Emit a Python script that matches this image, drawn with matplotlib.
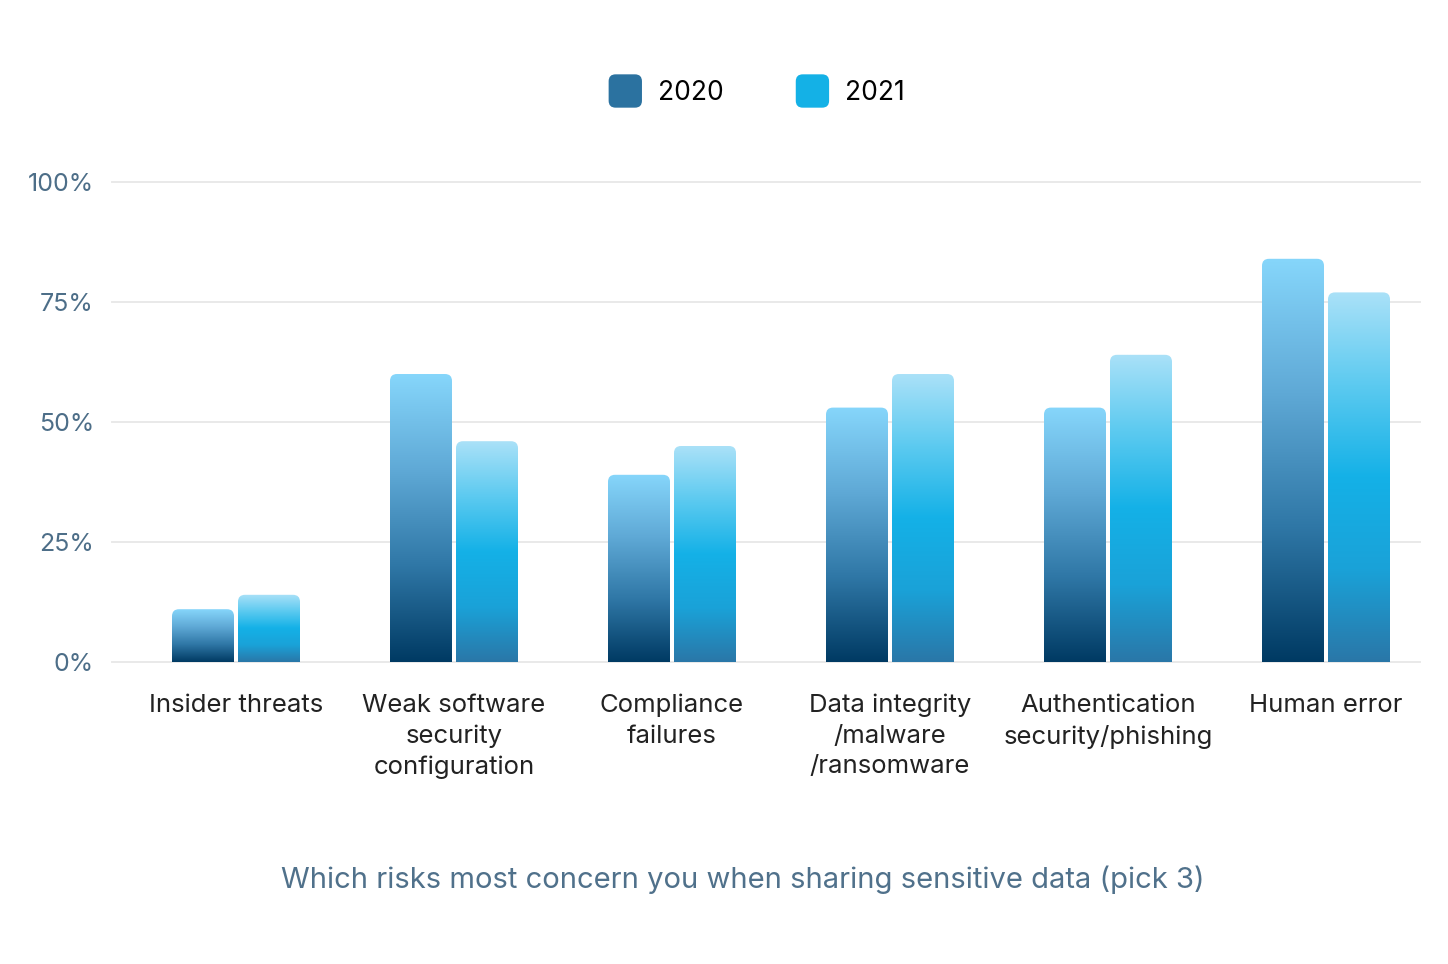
import numpy as np
import matplotlib
matplotlib.use("Agg")
import matplotlib.pyplot as plt
from matplotlib.patches import FancyBboxPatch
from matplotlib.colors import LinearSegmentedColormap
from matplotlib.legend_handler import HandlerPatch

plt.rcParams['font.family'] = ['Inter', 'DejaVu Sans']

# data
categories = ["Insider threats", "Weak software\nsecurity\nconfiguration", "Compliance\nfailures",
              "Data integrity\n/malware\n/ransomware", "Authentication\nsecurity/phishing", "Human error"]
years = ["2020", "2021"]
v2020 = [11, 60, 39, 53, 53, 84]
v2021 = [14, 46, 45, 60, 64, 77]
yticks = [0, 25, 50, 75, 100]
title = "Which risks most concern you when sharing sensitive data (pick 3)"

# gradients (bottom -> top)
cmap20 = LinearSegmentedColormap.from_list("c20", ["#003a63", "#2f77a6", "#5fa9d6", "#86d6fb"])
cmap21 = LinearSegmentedColormap.from_list("c21", ["#2a77a8", "#1aa2d8", "#14b1e7", "#5ccaf0", "#aae1f8"])
solid = ["#2b72a0", "#14b1e6"]

W, H = 1448, 964
fig = plt.figure(figsize=(W / 100, H / 100), dpi=100)
ax = fig.add_axes([112 / W, 1 - 662 / H, (1420 - 112) / W, (662 - 182) / H])

x = np.arange(len(categories))
xl = (-124 / 218, len(categories) - 1 + 94 / 218)
yl = (0, 100)
bw = 62 / 218
gap = 4 / 218

# aspect between data units of y and x (per pixel)
px_x = (xl[1] - xl[0]) / (1420 - 112)
px_y = (yl[1] - yl[0]) / (662 - 182)
asp = px_y / px_x
rad = 7 * px_x

for vals, cm, off in [(v2020, cmap20, -(bw + gap) / 2), (v2021, cmap21, (bw + gap) / 2)]:
    for xi, v in zip(x, vals):
        x0 = xi + off - bw / 2
        patch = FancyBboxPatch((x0, -3), bw, v + 3,
                               boxstyle=f"round,pad=0,rounding_size={rad}",
                               mutation_aspect=asp, facecolor="none", edgecolor="none")
        ax.add_patch(patch)
        grad = np.linspace(0, 1, 256).reshape(-1, 1)
        im = ax.imshow(grad, cmap=cm, extent=(x0, x0 + bw, 0, v), origin="lower",
                       aspect="auto", interpolation="bilinear", zorder=3)
        im.set_clip_path(patch)

ax.set_xlim(*xl)
ax.set_ylim(*yl)
ax.set_aspect("auto")

for t in yticks:
    ax.axhline(t, color="#e9e9e9", lw=1.4, zorder=1, clip_on=False)

ax.set_yticks(yticks)
ax.set_yticklabels([f"{t}%" for t in yticks], color="#4d6e88", fontsize=18)
ax.set_xticks(x)
ax.set_xticklabels(categories, color="#222222", fontsize=18.5, linespacing=1.4, va="top")
ax.tick_params(axis="both", length=0)
ax.tick_params(axis="y", pad=13)
ax.tick_params(axis="x", pad=23)
for s in ax.spines.values():
    s.set_visible(False)


class RoundHandler(HandlerPatch):
    def create_artists(self, legend, orig_handle, xdescent, ydescent, width, height, fontsize, trans):
        size = 24
        p = FancyBboxPatch((width / 2 - size / 2 - xdescent, height / 2 - size / 2 - ydescent), size, size,
                           boxstyle="round,pad=0,rounding_size=5",
                           facecolor=orig_handle.get_facecolor(), edgecolor="none", transform=trans)
        return [p]


handles = [plt.Rectangle((0, 0), 1, 1, facecolor=c) for c in solid]
fig.legend(handles, years, handler_map={plt.Rectangle: RoundHandler()},
           loc="center", bbox_to_anchor=(756 / W, 1 - 91 / H), ncol=2, frameon=False,
           fontsize=19, handlelength=1.35, handleheight=1.4, handletextpad=0.55, columnspacing=2.7)

fig.text(743 / W, 1 - 880 / H, title, ha="center", va="center", color="#50718b", fontsize=21)

fig.savefig("out.png", dpi=100, facecolor="white")
